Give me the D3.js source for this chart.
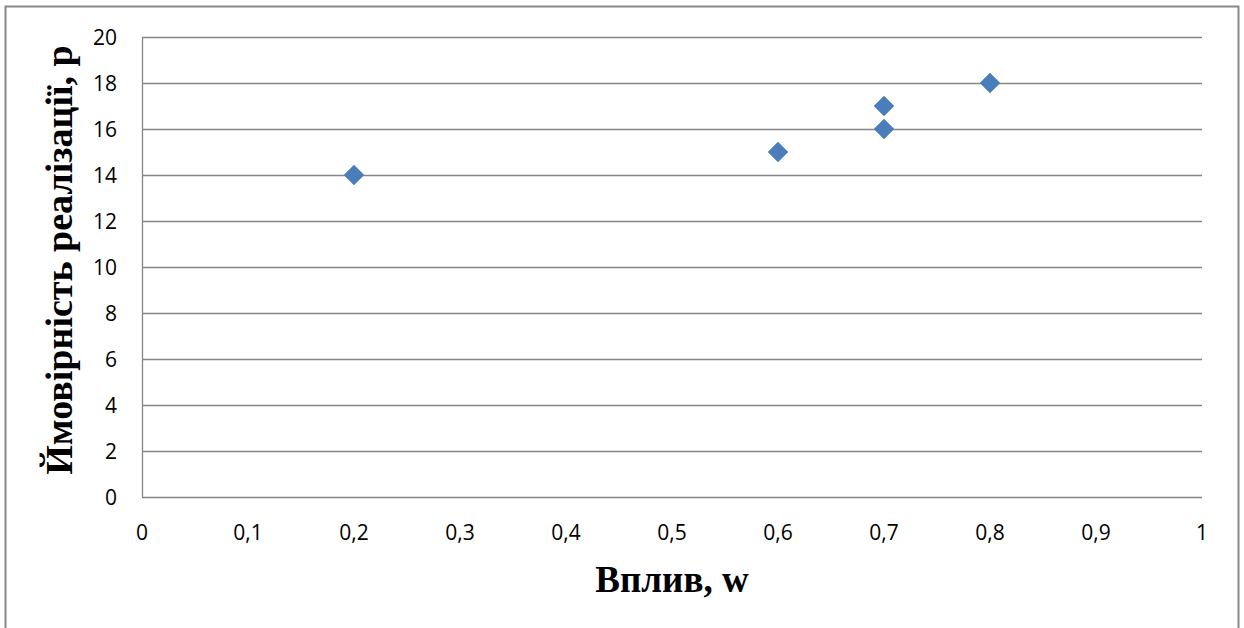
<!DOCTYPE html>
<html>
<head>
<meta charset="utf-8">
<script src="https://cdn.jsdelivr.net/npm/d3@7"></script>
<style>
  body { margin: 0; background: #fff; }
  svg { display: block; }
</style>
</head>
<body>
<div id="chart"></div>
<script>
// data
var influence = [0.2, 0.6, 0.7, 0.7, 0.8];
var probability = [14, 15, 17, 16, 18];
var xTicks = [0, 0.1, 0.2, 0.3, 0.4, 0.5, 0.6, 0.7, 0.8, 0.9, 1];
var yTicks = [0, 2, 4, 6, 8, 10, 12, 14, 16, 18, 20];
var xTitle = "Вплив, w";
var yTitle = "Ймовірність реалізації, p";

var W = 1244, H = 628;
var padL = 142, padR = 1202, padT = 37, padB = 497;

var svg = d3.select("#chart").append("svg").attr("width", W).attr("height", H);

// outer frame
svg.append("path")
    .attr("d", "M5.5," + H + "V6.5H1238.5V" + H)
    .attr("fill", "none").attr("stroke", "#888").attr("stroke-width", 2);

var x = d3.scaleLinear().domain([0, 1]).range([padL, padR]);
var y = d3.scaleLinear().domain([0, 20]).range([padB, padT]);

// horizontal gridlines
svg.append("g").selectAll("line").data(yTicks).enter().append("line")
    .attr("x1", padL).attr("x2", padR)
    .attr("y1", function (d) { return Math.round(y(d)) + 0.5; })
    .attr("y2", function (d) { return Math.round(y(d)) + 0.5; })
    .attr("stroke", "#868686").attr("stroke-width", 1.3);

// y axis line
svg.append("line").attr("x1", padL + 0.5).attr("x2", padL + 0.5)
    .attr("y1", padT).attr("y2", padB)
    .attr("stroke", "#868686").attr("stroke-width", 1.3);

var fmt = function (d) { return String(d).replace(".", ","); };

svg.append("g").selectAll("text").data(yTicks).enter().append("text")
    .attr("x", 117).attr("y", function (d) { return y(d); })
    .attr("dy", "0.36em")
    .attr("text-anchor", "end")
    .style("font-family", "'Open Sans', sans-serif").style("font-size", "21px")
    .text(fmt);

svg.append("g").selectAll("text").data(xTicks).enter().append("text")
    .attr("x", function (d) { return x(d); }).attr("y", 540)
    .attr("text-anchor", "middle")
    .style("font-family", "'Open Sans', sans-serif").style("font-size", "21px")
    .text(fmt);

// markers
var pts = influence.map(function (v, i) { return [v, probability[i]]; });
svg.append("g").selectAll("path").data(pts).enter().append("path")
    .attr("transform", function (d) { return "translate(" + x(d[0]) + "," + y(d[1]) + ")"; })
    .attr("d", "M0,-10L10,0L0,10L-10,0Z")
    .attr("fill", "#4A7EBB").attr("stroke", "#4A7EBB").attr("stroke-width", 0.5);

// titles
svg.append("text").attr("x", 672).attr("y", 592)
    .attr("text-anchor", "middle")
    .style("font-family", "'Liberation Serif', serif").style("font-weight", "bold").style("font-size", "37px")
    .text(xTitle);

svg.append("text")
    .attr("transform", "translate(72," + 260 + ") rotate(-90)")
    .attr("text-anchor", "middle")
    .style("font-family", "'Liberation Serif', serif").style("font-weight", "bold").style("font-size", "38px")
    .text(yTitle);
</script>
</body>
</html>
